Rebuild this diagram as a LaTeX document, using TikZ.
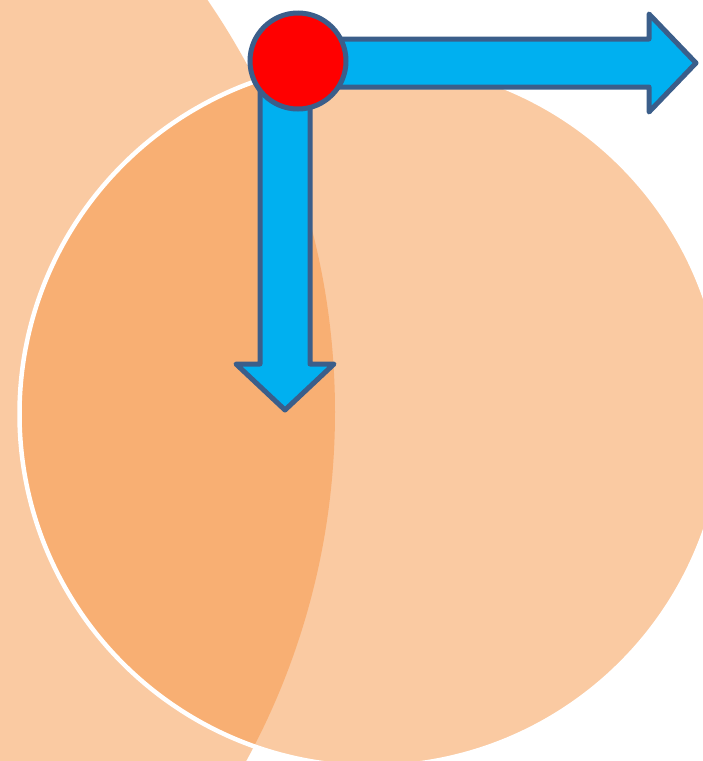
\documentclass[tikz,border=0pt]{standalone}
\definecolor{orng}{HTML}{F79646}
\definecolor{arrblue}{HTML}{00B0F0}
\definecolor{edgeblue}{HTML}{3B5E8A}
\begin{document}
\begin{tikzpicture}[x=1pt,y=-1pt,
  disc/.style={fill=orng,fill opacity=0.5},
  blockarrow/.style={fill=arrblue,draw=edgeblue,line width=5pt,line join=round}]
\useasboundingbox (0,0) rectangle (703,761);
\fill[white] (0,0) rectangle (703,761);
\begin{scope}
\clip (0,0) rectangle (703,761);
\fill[disc] (-394,412) circle[radius=729];
\fill[disc] (372,414) circle[radius=352.5];
\draw[white,line width=4.5pt] (372,414) circle[radius=352.5];
\end{scope}
\draw[blockarrow] (298,39) -- (649,39) -- (649,14) -- (696,63) -- (649,112) -- (649,87) -- (298,87) -- cycle;
\draw[blockarrow] (260,61) -- (260,364) -- (236,364) -- (285,410) -- (334,364) -- (310,364) -- (310,61) -- cycle;
\node[circle,fill=red,draw=edgeblue,line width=5pt,minimum size=96pt,inner sep=0pt] (dot) at (298,61) {};
\end{tikzpicture}
\end{document}
